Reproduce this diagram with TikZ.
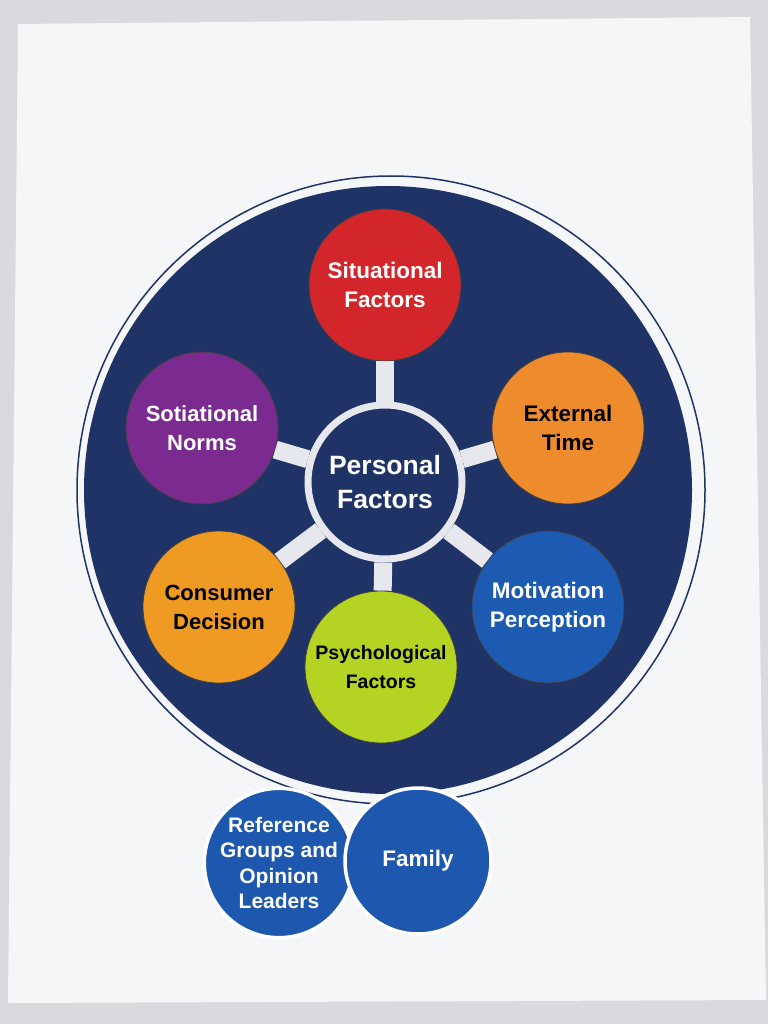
\documentclass[tikz,border=0pt]{standalone}
\usepackage{fontspec}
\setmainfont{Liberation Sans}
\definecolor{bggray}{HTML}{D9DADD}
\definecolor{paper}{HTML}{F5F6F8}
\definecolor{navy}{HTML}{1F3367}
\definecolor{spokegray}{HTML}{E6E8EE}
\definecolor{satred}{HTML}{D3262A}
\definecolor{satorange}{HTML}{EE8B2C}
\definecolor{satamber}{HTML}{EF9A22}
\definecolor{satpurple}{HTML}{7B2A8F}
\definecolor{satblue}{HTML}{1C5BB1}
\definecolor{satlime}{HTML}{B4D323}
\definecolor{grpblue}{HTML}{1E58AE}
\tikzset{
  sat/.style={circle, draw=black!75, line width=0.8pt, minimum size=152pt,
    inner sep=0pt, align=center},
  spoke/.style={draw=spokegray, line width=18pt},
  grp/.style={circle, draw=white, line width=3.5pt, fill=grpblue, text=white,
    minimum size=146pt, inner sep=0pt, align=center,
    font=\bfseries\fontsize{21}{25.5}\selectfont}
}
\begin{document}
\begin{tikzpicture}[x=1pt,y=-1pt]
\useasboundingbox (0,0) rectangle (768,1024);
\fill[bggray] (0,0) rectangle (768,1024);
\fill[paper] (18,24) -- (750,17) -- (766,1000) -- (8,1003) -- cycle;
% big disc with its thin ring
\draw[navy, line width=1.5pt] (391,490) circle (314);
\fill[navy] (388,490) circle (304);
% the six factors round the centre
\foreach \i/\x/\y/\col/\tc/\fs/\txt in {
    1/385/285/satred/white/22.5/{Situational\\Factors},
    2/568/428/satorange/black/22.5/{External\\Time},
    3/548/607/satblue/white/22.5/{Motivation\\Perception},
    4/381/667/satlime/black/19.5/{Psychological\\Factors},
    5/219/607/satamber/black/22/{Consumer\\Decision},
    6/202/428/satpurple/white/22/{Sotiational\\Norms}}
  \node[sat, fill=\col, text=\tc, font=\bfseries\fontsize{\fs}{29}\selectfont] (s\i) at (\x,\y) {\txt};
\node[circle, draw=spokegray, line width=7pt, fill=navy, text=white,
  minimum size=154pt, inner sep=0pt, align=center,
  font=\bfseries\fontsize{26.5}{34}\selectfont] (pf) at (385,482) {Personal\\Factors};
\foreach \i in {1,...,6}
  \draw[spoke] (pf) -- (s\i);
% groups below the disc
\node[grp] (ref) at (279,863) {Reference\\Groups and\\Opinion\\Leaders};
\node[grp, font=\bfseries\fontsize{22.5}{29}\selectfont] (fam) at (418,861) {Family};
\end{tikzpicture}
\end{document}
